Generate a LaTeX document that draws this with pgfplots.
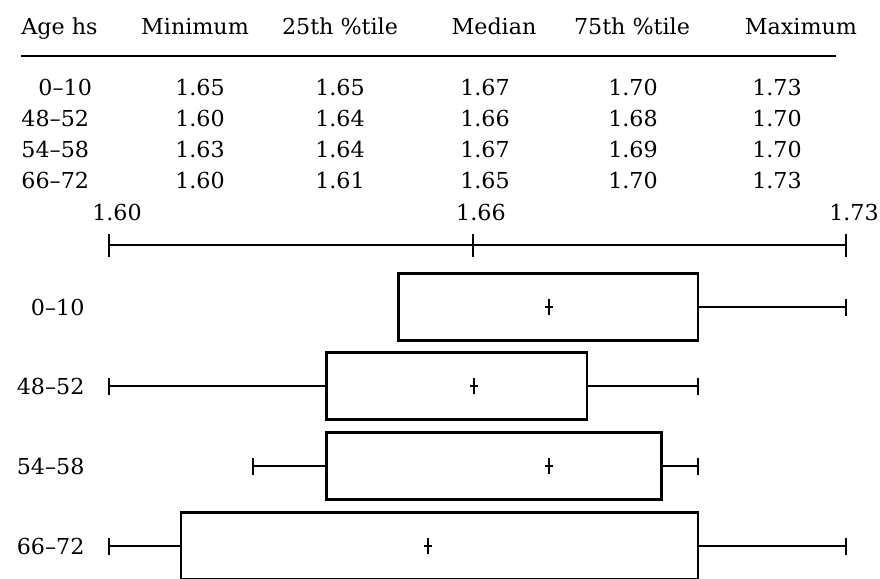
\documentclass[border=0pt]{standalone}
\usepackage{fontspec}
\setmainfont{DejaVu Serif}[FakeStretch=1.01]
\usepackage{pgfplots}
\usepgfplotslibrary{statistics}
\pgfplotsset{compat=1.18}

% The drawn scale of the original is uneven, so the box values are read off
% the drawing (1.60 at the left end, 1.73 at the right end of the scale line).
\begin{document}
\begin{tikzpicture}[font=\fontsize{11}{13}\selectfont]
  \path[use as bounding box] (0,0) rectangle (440pt,-289.5pt);

  % table above the plot, positions in pixels of the 880x579 picture
  \begin{scope}[x=0.5pt, y=-0.5pt, every node/.style={anchor=base, inner sep=0pt}]
    \node[anchor=base west] at (21,34) {Age hs};
    \node at (195,34) {Minimum};
    \node at (340,34) {25th \%tile};
    \node at (494,34) {Median};
    \node at (632,34) {75th \%tile};
    \node at (801,34) {Maximum};
    \draw[line width=1.1pt] (21,56) -- (836,56);

    \foreach \y/\lab/\lx/\a/\b/\c/\d/\e in {
        95/0--10/38/1.65/1.65/1.67/1.70/1.73,
        126/48--52/21/1.60/1.64/1.66/1.68/1.70,
        157/54--58/21/1.63/1.64/1.67/1.69/1.70,
        188/66--72/21/1.60/1.61/1.65/1.70/1.73} {
      \node[anchor=base west] at (\lx,\y) {\lab};
      \node at (200,\y) {\a};
      \node at (340,\y) {\b};
      \node at (485,\y) {\c};
      \node at (633,\y) {\d};
      \node at (777,\y) {\e};
    }
  \end{scope}

  \begin{axis}[
      at={(54.5pt,-122.5pt)}, anchor=north west,
      scale only axis,
      width=368.5pt, height=167pt,
      xmin=1.60, xmax=1.73,
      ymin=245, ymax=579,
      y dir=reverse,
      clip=false,
      axis x line*=top,
      axis y line*=left,
      y axis line style={draw=none},
      x axis line style={line width=1.1pt},
      xtick={1.60,1.6642,1.73},
      xticklabels={1.60,1.66,1.73},
      tick align=center,
      major tick length=11.5pt,
      xtick style={line width=0.8pt, black},
      ytick style={draw=none},
      x tick label style={xshift=4pt, yshift=3pt},
      ytick={307,386,466,546},
      yticklabels={0--10,48--52,54--58,66--72},
      y tick label style={xshift=-3pt},
      tick label style={font=\fontsize{11}{13}\selectfont},
      /pgf/number format/assume math mode=true,
      boxplot/draw direction=x,
      boxplot/draw/median/.code={},
      boxplot/box extend=67,
      boxplot/whisker extend=17,
      boxplot/every box/.style={line width=1.4pt},
      boxplot/every whisker/.style={line width=1.2pt},
    ]

    % 0-10
    \addplot[black, boxplot prepared={lower whisker=1.6510, lower quartile=1.6510,
        median=1.6776, upper quartile=1.7039, upper whisker=1.7300, draw position=307}]
      coordinates {};
    % 48-52
    \addplot[black, boxplot prepared={lower whisker=1.6000, lower quartile=1.6383,
        median=1.6644, upper quartile=1.6843, upper whisker=1.7039, draw position=386}]
      coordinates {};
    % 54-58
    \addplot[black, boxplot prepared={lower whisker=1.6254, lower quartile=1.6383,
        median=1.6776, upper quartile=1.6975, upper whisker=1.7039, draw position=466}]
      coordinates {};
    % 66-72
    \addplot[black, boxplot prepared={lower whisker=1.6000, lower quartile=1.6127,
        median=1.6563, upper quartile=1.7039, upper whisker=1.7300, draw position=546}]
      coordinates {};

    % medians drawn as small crosses
    \addplot[only marks, mark=+, mark size=4pt,
        mark options={xscale=0.5, line width=1.3pt, black}]
      coordinates {(1.6776,307) (1.6644,386) (1.6776,466) (1.6563,546)};
  \end{axis}
\end{tikzpicture}
\end{document}
